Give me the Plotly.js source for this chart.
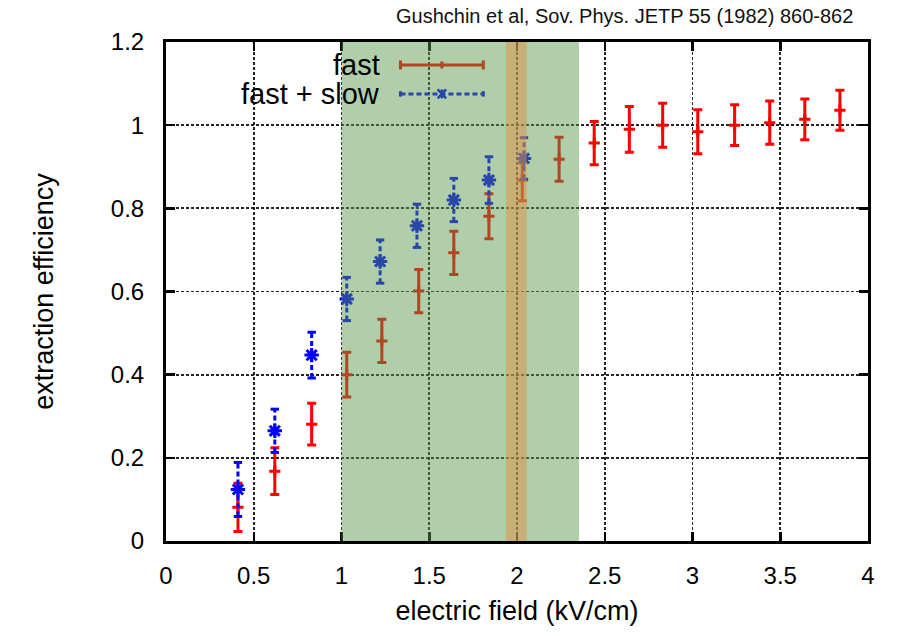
<!DOCTYPE html>
<html>
<head>
<meta charset="utf-8">
<script src="https://cdn.plot.ly/plotly-3.0.1.min.js"></script>
<style>html,body{margin:0;padding:0;background:#fff;}#chart{width:903px;height:636px;}</style>
</head>
<body>
<div id="chart"></div>
<script>
// ---- data ----
const fieldFast = [0.41, 0.62, 0.83, 1.03, 1.23, 1.44, 1.64, 1.84, 2.03, 2.24, 2.44, 2.64, 2.83, 3.03, 3.24, 3.44, 3.64, 3.84];
const effFast   = [0.081, 0.168, 0.281, 0.400, 0.481, 0.601, 0.693, 0.781, 0.868, 0.918, 0.957, 0.990, 1.000, 0.984, 1.000, 1.006, 1.014, 1.036];
const errFast   = [0.058, 0.056, 0.050, 0.054, 0.052, 0.052, 0.052, 0.054, 0.050, 0.053, 0.052, 0.055, 0.053, 0.053, 0.049, 0.052, 0.049, 0.048];

const fieldSlow = [0.41, 0.62, 0.83, 1.03, 1.22, 1.43, 1.64, 1.84, 2.04];
const effSlow   = [0.124, 0.265, 0.447, 0.582, 0.672, 0.758, 0.820, 0.868, 0.920];
const errSlow   = [0.065, 0.052, 0.055, 0.052, 0.052, 0.052, 0.052, 0.056, 0.050];

const seriesNames = ['fast', 'fast + slow'];
const shadedField = [1.0, 2.353];
const bandField = [1.937, 2.055];
const sourceNote = 'Gushchin et al, Sov. Phys. JETP 55 (1982) 860-862';
const xTitle = 'electric field (kV/cm)';
const yTitle = 'extraction efficiency';

// ---- build traces ----
const RED = '#ff0000';
const BLUE = '#0000ff';
const FONT = 'Liberation Sans, Arial, Helvetica, sans-serif';

const fastTrace = {
  type: 'scatter', mode: 'markers', name: seriesNames[0], showlegend: false,
  x: fieldFast, y: effFast,
  error_y: {type: 'data', array: errFast, visible: true, color: RED, thickness: 3, width: 4.5},
  marker: {symbol: 'cross-thin-open', size: 8, color: RED, line: {color: RED, width: 3}},
  hoverinfo: 'x+y'
};

const segX = [], segY = [], capX = [], capY = [];
for (let i = 0; i < fieldSlow.length; i++) {
  segX.push(fieldSlow[i], fieldSlow[i], null);
  segY.push(effSlow[i] - errSlow[i], effSlow[i] + errSlow[i], null);
  capX.push(fieldSlow[i], fieldSlow[i]);
  capY.push(effSlow[i] - errSlow[i], effSlow[i] + errSlow[i]);
}
const slowBars = {
  type: 'scatter', mode: 'lines', showlegend: false, hoverinfo: 'skip',
  x: segX, y: segY, line: {color: BLUE, width: 3, dash: '5px,3px'}
};
const slowCaps = {
  type: 'scatter', mode: 'markers', showlegend: false, hoverinfo: 'skip',
  x: capX, y: capY,
  marker: {symbol: 'line-ew-open', size: 6, color: BLUE, line: {color: BLUE, width: 3}}
};
const slowTrace = {
  type: 'scatter', mode: 'markers', name: seriesNames[1], showlegend: false,
  x: fieldSlow, y: effSlow,
  marker: {symbol: 'asterisk-open', size: 12, color: BLUE, line: {color: BLUE, width: 3}},
  hoverinfo: 'x+y'
};

// ---- legend drawn as shapes + annotations (text left of sample) ----
const lx0 = 0.334, lx1 = 0.452, lxm = (lx0 + lx1) / 2;
const ly1 = 0.954, ly2 = 0.896;
const capH = 0.009, capW = 0.006;
const legendShapes = [
  {type: 'line', xref: 'paper', yref: 'paper', x0: lx0, x1: lx1, y0: ly1, y1: ly1, line: {color: RED, width: 3}, layer: 'above'},
  {type: 'line', xref: 'paper', yref: 'paper', x0: lx0, x1: lx0, y0: ly1 - capH, y1: ly1 + capH, line: {color: RED, width: 3}, layer: 'above'},
  {type: 'line', xref: 'paper', yref: 'paper', x0: lx1, x1: lx1, y0: ly1 - capH, y1: ly1 + capH, line: {color: RED, width: 3}, layer: 'above'},
  {type: 'line', xref: 'paper', yref: 'paper', x0: lxm, x1: lxm, y0: ly1 - capH * 0.8, y1: ly1 + capH * 0.8, line: {color: RED, width: 3}, layer: 'above'},
  {type: 'line', xref: 'paper', yref: 'paper', x0: lx0, x1: lx1, y0: ly2, y1: ly2, line: {color: BLUE, width: 3, dash: '5px,3px'}, layer: 'above'},
  {type: 'line', xref: 'paper', yref: 'paper', x0: lx0, x1: lx0, y0: ly2 - capH * 0.6, y1: ly2 + capH * 0.6, line: {color: BLUE, width: 3}, layer: 'above'},
  {type: 'line', xref: 'paper', yref: 'paper', x0: lx1, x1: lx1, y0: ly2 - capH * 0.6, y1: ly2 + capH * 0.6, line: {color: BLUE, width: 3}, layer: 'above'},
  {type: 'line', xref: 'paper', yref: 'paper', x0: lxm - capW, x1: lxm + capW, y0: ly2 - capH, y1: ly2 + capH, line: {color: BLUE, width: 2.5}, layer: 'above'},
  {type: 'line', xref: 'paper', yref: 'paper', x0: lxm - capW, x1: lxm + capW, y0: ly2 + capH, y1: ly2 - capH, line: {color: BLUE, width: 2.5}, layer: 'above'},
  {type: 'line', xref: 'paper', yref: 'paper', x0: lxm, x1: lxm, y0: ly2 - capH, y1: ly2 + capH, line: {color: BLUE, width: 2.5}, layer: 'above'}
];

const regionShapes = [
  {type: 'rect', xref: 'x', yref: 'paper', x0: shadedField[0], x1: shadedField[1], y0: 0, y1: 1,
   fillcolor: 'rgb(86,150,73)', opacity: 0.47, line: {width: 0}, layer: 'above'},
  {type: 'rect', xref: 'x', yref: 'paper', x0: bandField[0], x1: bandField[1], y0: 0, y1: 1,
   fillcolor: 'rgb(225,142,67)', opacity: 0.49, line: {width: 0}, layer: 'above'}
];

const axisCommon = {
  showline: true, linecolor: '#000', linewidth: 3, mirror: 'ticks',
  ticks: 'inside', ticklen: 9, tickwidth: 2.5, tickcolor: '#000',
  showgrid: true, gridcolor: 'rgba(0,0,0,0.85)', gridwidth: 1.8, griddash: '3px,2px',
  zeroline: false, tickfont: {family: FONT, size: 24, color: '#000'}
};

const layout = {
  width: 903, height: 636,
  margin: {l: 166, r: 35, t: 42, b: 95},
  paper_bgcolor: '#fff', plot_bgcolor: '#fff',
  showlegend: false,
  xaxis: Object.assign({}, axisCommon, {
    range: [0, 4], dtick: 0.5, tick0: 0, ticklabelstandoff: 11,
    title: {text: xTitle, font: {family: FONT, size: 27, color: '#000'}, standoff: 14}
  }),
  yaxis: Object.assign({}, axisCommon, {
    range: [0, 1.2], dtick: 0.2, tick0: 0, ticklabelstandoff: 14,
    title: {text: yTitle, font: {family: FONT, size: 27, color: '#000'}, standoff: 50}
  }),
  shapes: legendShapes.concat(regionShapes),
  annotations: [
    {xref: 'paper', yref: 'paper', x: 0.9815, y: 1.052, xanchor: 'right', yanchor: 'middle',
     text: sourceNote, showarrow: false, font: {family: FONT, size: 20, color: '#111'}},
    {xref: 'paper', yref: 'paper', x: 0.308, y: ly1, xanchor: 'right', yanchor: 'middle',
     text: seriesNames[0], showarrow: false, font: {family: FONT, size: 29, color: '#000'}},
    {xref: 'paper', yref: 'paper', x: 0.308, y: ly2, xanchor: 'right', yanchor: 'middle',
     text: seriesNames[1], showarrow: false, font: {family: FONT, size: 29, color: '#000'}}
  ]
};

Plotly.newPlot('chart', [fastTrace, slowBars, slowCaps, slowTrace], layout, {displayModeBar: false, staticPlot: true});
</script>
</body>
</html>
